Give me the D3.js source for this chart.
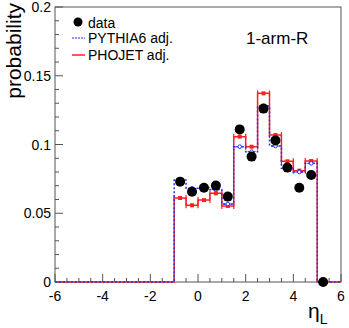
<!DOCTYPE html>
<html>
<head>
<meta charset="utf-8">
<script src="https://cdn.jsdelivr.net/npm/d3@7"></script>
<style>
  body { margin: 0; background: #fff; }
  text { font-family: "Liberation Sans", Arial, sans-serif; }
</style>
</head>
<body>
<div id="chart"></div>
<script>
// bin centers (width 0.5) and values
var binCenters = [-0.75, -0.25, 0.25, 0.75, 1.25, 1.75, 2.25, 2.75, 3.25, 3.75, 4.25, 4.75];
var dataCenters = [-0.75, -0.25, 0.25, 0.75, 1.25, 1.75, 2.25, 2.75, 3.25, 3.75, 4.25, 4.75, 5.25];
var dataVals = [0.0730, 0.0657, 0.0686, 0.0701, 0.0621, 0.1110, 0.0912, 0.1261, 0.1030, 0.0832, 0.0686, 0.0778, 0.0];
var pythiaVals = [0.0742, 0.0681, 0.0688, 0.0672, 0.0567, 0.0984, 0.0948, 0.1280, 0.0989, 0.0827, 0.0800, 0.0863];
var phojetVals = [0.0611, 0.0558, 0.0596, 0.0645, 0.0553, 0.1057, 0.0984, 0.1372, 0.1069, 0.0878, 0.0810, 0.0880];
var xTicks = [-6, -4, -2, 0, 2, 4, 6];
var yTicks = [0, 0.05, 0.1, 0.15, 0.2];
var yTickLabels = ["0", "0.05", "0.1", "0.15", "0.2"];

var W = 349, H = 328;
var margin = {top: 7, right: 8, bottom: 46, left: 55};
var width = W - margin.left - margin.right,
    height = H - margin.top - margin.bottom;

var svg = d3.select("#chart").append("svg")
  .attr("width", W).attr("height", H);
var g = svg.append("g")
  .attr("transform", "translate(" + margin.left + "," + margin.top + ")");

var x = d3.scaleLinear().domain([-6, 6]).range([0, width]);
var y = d3.scaleLinear().domain([0, 0.2]).range([height, 0]);

// frame
g.append("rect").attr("x", 0).attr("y", 0).attr("width", width).attr("height", height)
  .attr("fill", "none").attr("stroke", "#555").attr("stroke-width", 1);

// x ticks (inside, pointing up)
var xMinor = d3.range(-6, 6.01, 0.5);
g.selectAll(".xt").data(xMinor).enter().append("line")
  .attr("x1", function(d) { return x(d); }).attr("x2", function(d) { return x(d); })
  .attr("y1", height)
  .attr("y2", function(d) { return height - (Math.abs(d % 2) < 1e-9 ? 8 : 4); })
  .attr("stroke", "#555");
g.selectAll(".xl").data(xTicks).enter().append("text")
  .attr("x", function(d) { return x(d); }).attr("y", height + 19)
  .attr("text-anchor", "middle").attr("font-size", 14)
  .text(function(d) { return d; });

// y ticks (inside, pointing right)
var yMinor = d3.range(0, 0.2001, 0.01);
g.selectAll(".yt").data(yMinor).enter().append("line")
  .attr("y1", function(d) { return y(d); }).attr("y2", function(d) { return y(d); })
  .attr("x1", 0)
  .attr("x2", function(d, i) { return i % 5 === 0 ? 8 : 4; })
  .attr("stroke", "#555");
g.selectAll(".yl").data(yTicks).enter().append("text")
  .attr("x", -4).attr("y", function(d) { return y(d) + 5; })
  .attr("text-anchor", "end").attr("font-size", 14)
  .text(function(d, i) { return yTickLabels[i]; });

// axis titles
svg.append("text")
  .attr("transform", "translate(21,3) rotate(-90)")
  .attr("text-anchor", "end").attr("font-size", 21)
  .text("probability");
var xt = svg.append("text").attr("x", 308).attr("y", 318).attr("font-size", 21).text("η");
xt.append("tspan").attr("font-size", 14).attr("dy", 6).text("L");

// step histogram
function stepPoints(vals) {
  var pts = [[-6, 0]];
  binCenters.forEach(function(c, i) { pts.push([c - 0.25, vals[i]]); });
  pts.push([5, 0]);
  pts.push([6, 0]);
  return pts;
}
var line = d3.line()
  .curve(d3.curveStepAfter)
  .x(function(d) { return x(d[0]); })
  .y(function(d) { return y(d[1]); });

// PHOJET (red)
g.append("path").datum(stepPoints(phojetVals))
  .attr("fill", "none").attr("stroke", "#ff2020").attr("stroke-width", 1.5)
  .attr("d", line);
binCenters.forEach(function(c, i) {
  var yy = y(phojetVals[i]);
  [c - 0.25, c + 0.25].forEach(function(e) {
    g.append("line").attr("x1", x(e)).attr("x2", x(e))
      .attr("y1", yy - 3).attr("y2", yy + 3)
      .attr("stroke", "#ff2020").attr("stroke-width", 1.2);
  });
  g.append("rect").attr("x", x(c) - 2).attr("y", yy - 2).attr("width", 4).attr("height", 4)
    .attr("fill", "#ff2020");
});

// PYTHIA6 (blue dashed)
g.append("path").datum(stepPoints(pythiaVals))
  .attr("fill", "none").attr("stroke", "#2030ff").attr("stroke-width", 1.5)
  .attr("stroke-dasharray", "2,2")
  .attr("d", line);
binCenters.forEach(function(c, i) {
  var yy = y(pythiaVals[i]);
  g.append("line").attr("x1", x(c) - 4).attr("x2", x(c) + 4)
    .attr("y1", yy).attr("y2", yy)
    .attr("stroke", "#2030ff").attr("stroke-width", 1);
  g.append("circle").attr("cx", x(c)).attr("cy", yy).attr("r", 1.8)
    .attr("fill", "#fff").attr("stroke", "#2030ff").attr("stroke-width", 1);
});

// data points
g.selectAll(".dot").data(dataCenters).enter().append("circle")
  .attr("cx", function(d) { return x(d); })
  .attr("cy", function(d, i) { return y(dataVals[i]); })
  .attr("r", 5).attr("fill", "#000");

// legend
var leg = svg.append("g");
leg.append("circle").attr("cx", 78).attr("cy", 22).attr("r", 4.5).attr("fill", "#000");
leg.append("text").attr("x", 88).attr("y", 28).attr("font-size", 14).text("data");
leg.append("line").attr("x1", 72).attr("x2", 85).attr("y1", 38).attr("y2", 38)
  .attr("stroke", "#2030ff").attr("stroke-width", 1.2).attr("stroke-dasharray", "2,1");
leg.append("text").attr("x", 88).attr("y", 43).attr("font-size", 14).text("PYTHIA6 adj.");
leg.append("line").attr("x1", 72).attr("x2", 85).attr("y1", 55).attr("y2", 55)
  .attr("stroke", "#ff2020").attr("stroke-width", 1.5);
leg.append("text").attr("x", 88).attr("y", 60).attr("font-size", 14).text("PHOJET adj.");

svg.append("text").attr("x", 246).attr("y", 44).attr("font-size", 17).text("1-arm-R");
</script>
</body>
</html>
